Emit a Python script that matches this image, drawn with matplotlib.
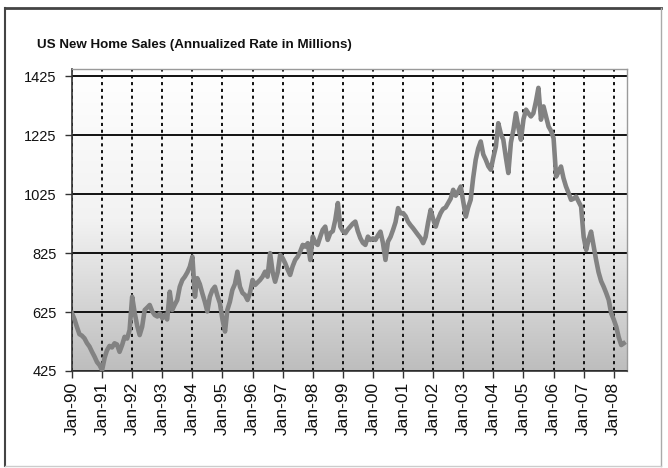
import matplotlib
matplotlib.use('Agg')
import matplotlib.pyplot as plt
import matplotlib.dates as mdates
from matplotlib.colors import LinearSegmentedColormap
from matplotlib.lines import Line2D
import numpy as np
import pandas as pd

plt.rcParams['font.family'] = ['Liberation Sans', 'DejaVu Sans']

# monthly new home sales (Jan 1990 .. May 2008)
sales_1990 = [621, 600, 575, 550, 545, 536, 520, 508, 490, 474, 455, 445]
sales_1991 = [428, 470, 495, 510, 505, 519, 515, 490, 513, 541, 535, 564]
sales_1992 = [677, 622, 580, 547, 575, 632, 640, 649, 627, 615, 610, 620]
sales_1993 = [604, 615, 600, 694, 632, 650, 666, 711, 734, 745, 760, 779]
sales_1994 = [813, 677, 740, 720, 689, 660, 627, 677, 700, 711, 680, 655]
sales_1995 = [600, 559, 632, 660, 700, 720, 762, 711, 690, 683, 666, 690]
sales_1996 = [734, 717, 725, 734, 745, 762, 745, 825, 760, 728, 760, 819]
sales_1997 = [808, 790, 770, 751, 780, 802, 813, 830, 853, 847, 859, 802]
sales_1998 = [881, 860, 853, 880, 904, 915, 870, 893, 900, 938, 995, 915]
sales_1999 = [900, 893, 905, 915, 925, 932, 900, 876, 860, 853, 881, 870]
sales_2000 = [875, 870, 885, 898, 860, 802, 864, 880, 904, 930, 978, 960]
sales_2001 = [961, 950, 932, 920, 910, 898, 887, 876, 859, 880, 930, 972]
sales_2002 = [940, 915, 940, 961, 975, 980, 995, 1010, 1040, 1020, 1034, 1051]
sales_2003 = [1000, 949, 980, 1006, 1080, 1142, 1180, 1204, 1160, 1142, 1120, 1108]
sales_2004 = [1150, 1187, 1266, 1230, 1210, 1150, 1097, 1200, 1244, 1300, 1250, 1210]
sales_2005 = [1280, 1312, 1300, 1289, 1300, 1340, 1386, 1278, 1323, 1290, 1255, 1240]
sales_2006 = [1215, 1085, 1100, 1119, 1080, 1051, 1030, 1006, 1010, 1017, 1000, 983]
sales_2007 = [880, 836, 870, 898, 850, 802, 760, 730, 711, 690, 666, 621]
sales_2008 = [600, 575, 540, 513, 519]

y_ticks = [425, 625, 825, 1025, 1225, 1425]
title = 'US New Home Sales (Annualized Rate in Millions)'

sales = np.concatenate([sales_1990, sales_1991, sales_1992, sales_1993, sales_1994,
                        sales_1995, sales_1996, sales_1997, sales_1998, sales_1999,
                        sales_2000, sales_2001, sales_2002, sales_2003, sales_2004,
                        sales_2005, sales_2006, sales_2007, sales_2008])
dates = pd.date_range('1990-01-01', periods=len(sales), freq='MS')

fig = plt.figure(figsize=(6.68, 4.68), dpi=100)
ax = fig.add_axes([72/668, 97/468, 555/668, 302/468])

# white-to-grey background of the plot area
bg = LinearSegmentedColormap.from_list('bg', ['#ffffff', '#f2f2f2', '#bdbdbd'])
grad = np.linspace(0, 1, 256)[:, None]
ax.imshow(grad, extent=(0, 1, 0, 1), transform=ax.transAxes, aspect='auto',
          cmap=bg, zorder=0)

ax.plot(dates, sales, color='#828282', lw=3.3, solid_joinstyle='round', zorder=3)

ax.set_ylim(425, 1450)
ax.set_yticks(y_ticks)
ax.set_xlim(pd.Timestamp('1990-01-01'), pd.Timestamp('2008-06-10'))
ax.xaxis.set_major_locator(mdates.YearLocator())
ax.xaxis.set_major_formatter(mdates.DateFormatter('%b-%y'))

ax.set_axisbelow(True)
ax.grid(axis='y', color='#111111', lw=1.4, ls='-')
ax.grid(axis='x', color='#111111', lw=1.4, ls=(0, (1.6, 1.9)))

for s in ['left', 'bottom']:
    ax.spines[s].set_color('#333333')
    ax.spines[s].set_linewidth(1.2)
for s in ['top', 'right']:
    ax.spines[s].set_color('#9a9a9a')
    ax.spines[s].set_linewidth(1.0)

ax.tick_params(direction='out', length=5, width=1, color='#333333',
               labelcolor='#111111')
ax.tick_params(axis='y', labelsize=10.5, pad=6)
ax.tick_params(axis='x', labelsize=12.5, pad=3, labelrotation=90)

fig.text(37/668, 1 - 45/468, title, fontsize=9.6, fontweight='bold',
         color='#111111', va='center', ha='left')

# outer frame of the picture
x0, x1 = 5/668, 661/668
y0, y1 = 1 - 466/468, 1 - 8/468
fig.add_artist(Line2D([x0, x1], [y1, y1], transform=fig.transFigure, color='#444444', lw=2))
fig.add_artist(Line2D([x0, x0], [y0, y1], transform=fig.transFigure, color='#444444', lw=1.5))
fig.add_artist(Line2D([x1, x1], [y0, y1], transform=fig.transFigure, color='#aaaaaa', lw=1))
fig.add_artist(Line2D([x0, x1], [y0, y0], transform=fig.transFigure, color='#cccccc', lw=1))

fig.savefig('out.png', dpi=100)
